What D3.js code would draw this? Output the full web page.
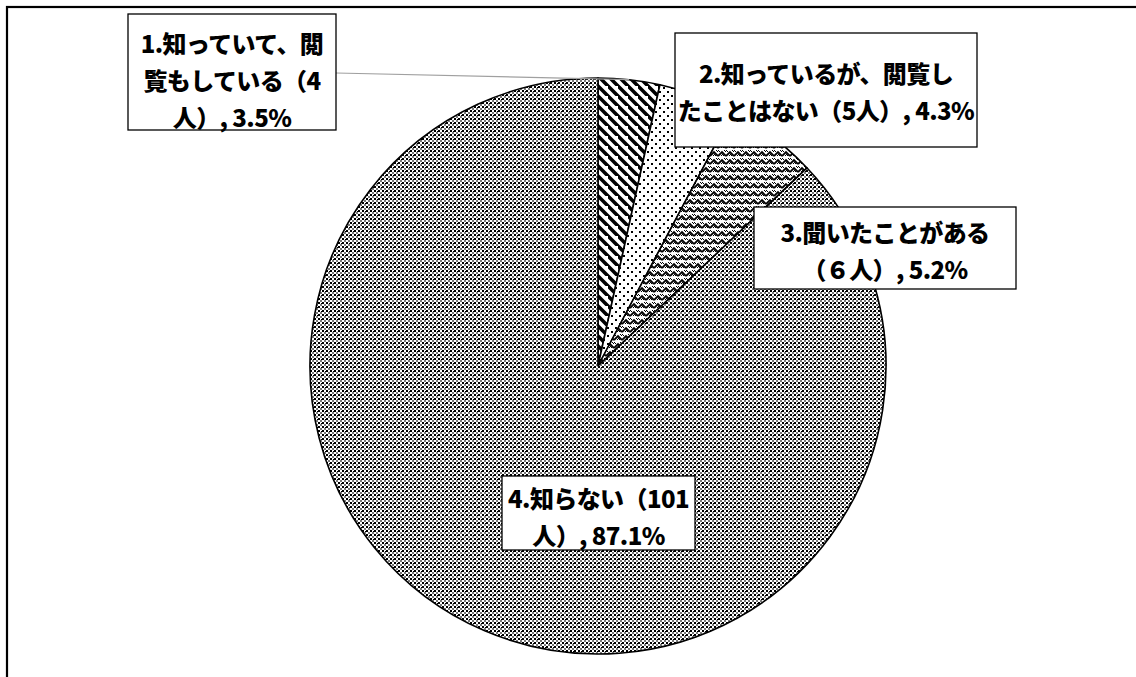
<!DOCTYPE html>
<html><head><meta charset="utf-8">
<script src="https://cdn.jsdelivr.net/npm/d3@7/dist/d3.min.js"></script>
<style>html,body{margin:0;padding:0;background:#fff;}svg{display:block;}</style>
</head><body>
<script>
// ---- data ----
const categories = ["1.知っていて、閲覧もしている", "2.知っているが、閲覧したことはない", "3.聞いたことがある", "4.知らない"];
const counts = [4, 5, 6, 101];
const percents = ["3.5%", "4.3%", "5.2%", "87.1%"];
const labelLines = [
  ["1.知っていて、閲", "覧もしている（4", "人）, 3.5%"],
  ["2.知っているが、閲覧し", "たことはない（5人）, 4.3%"],
  ["3.聞いたことがある", "（６人）, 5.2%"],
  ["4.知らない（101", "人）, 87.1%"]
];
// ---- layout ----
const W = 1136, H = 677;
const cx = 598, cy = 366, R = 288;
const boxes = [
  {x:128, y:14, w:208, h:116, ty:42},
  {x:675, y:33, w:302, h:114, ty:72},
  {x:754, y:207, w:262, h:82, ty:231},
  {x:502, y:476, w:193, h:74, ty:497}
];
const lineH = 37;

const svg = d3.select("body").append("svg").attr("width", W).attr("height", H);
const defs = svg.append("defs");
function tile(id, s){
  const p = defs.append("pattern").attr("id",id).attr("patternUnits","userSpaceOnUse").attr("width",s).attr("height",s);
  p.append("rect").attr("width",s).attr("height",s).attr("fill","#fff");
  return p;
}
function px(p, list){
  list.forEach(([x,y,w,h,c])=>p.append("rect").attr("x",x).attr("y",y).attr("width",w).attr("height",h).attr("fill",c).attr("shape-rendering","crispEdges"));
}
// pattern 0: wide downward diagonal
const p0 = tile("p0",10);
p0.append("path").attr("d","M-3,-3 L13,13 M-8,2 L2,12 M8,-8 L18,2").attr("stroke","#000").attr("stroke-width",3.6);
// pattern 1: sparse dots
const p1 = tile("p1",8);
px(p1, [[1,1,2,2,"#000"],[5,5,2,2,"#000"]]);
// pattern 2: zigzag weave
const p2 = tile("p2",8);
p2.append("path").attr("d","M0,6 L4,2 L8,6").attr("stroke","#000").attr("stroke-width",1.8).attr("fill","none");
px(p2, [[0,0,1,1,"#000"],[1,1,1,1,"#000"],[6,0,1,1,"#000"],[7,1,1,1,"#000"],[4,4,1,1,"#000"],[3,5,1,1,"#000"],[5,5,1,1,"#000"]]);
// pattern 3: small checker with grey
const p3 = tile("p3",8);
px(p3, [[0,0,2,2,"#000"],[4,0,2,2,"#000"],[2,2,2,2,"#777"],[6,2,2,2,"#777"],
        [0,4,2,2,"#000"],[4,4,2,2,"#000"],[2,6,2,2,"#777"],[6,6,2,2,"#777"],
        [3,1,1,1,"#000"],[7,5,1,1,"#000"]]);

const fills = ["url(#p0)","url(#p1)","url(#p2)","url(#p3)"];

// outer frame
svg.append("rect").attr("x",7).attr("y",7).attr("width",W+20).attr("height",H+20)
  .attr("fill","#fff").attr("stroke","#000").attr("stroke-width",2.2);

const pie = d3.pie().sort(null).value(d=>d);
const arcs = pie(counts);
const arc = d3.arc().innerRadius(0).outerRadius(R);
const g = svg.append("g").attr("transform",`translate(${cx},${cy})`);
g.selectAll("path").data(arcs).join("path")
  .attr("d",arc).attr("fill",(d,i)=>fills[i])
  .attr("stroke","#000").attr("stroke-width",1.6).attr("stroke-linejoin","round");

// leader line for label 1
const mid0 = (arcs[0].startAngle + arcs[0].endAngle)/2;
svg.append("line")
  .attr("x1", boxes[0].x + boxes[0].w).attr("y1", 73)
  .attr("x2", cx + R*Math.sin(mid0)).attr("y2", cy - R*Math.cos(mid0))
  .attr("stroke","#a0a0a0").attr("stroke-width",1.2);

// labels
const font = "'Noto Sans CJK JP', 'Noto Sans', sans-serif";
boxes.forEach((b,i)=>{
  svg.append("rect").attr("x",b.x).attr("y",b.y).attr("width",b.w).attr("height",b.h)
    .attr("fill","#fff").attr("stroke","#000").attr("stroke-width",1.3);
  const t = svg.append("text").attr("font-family",font).attr("font-weight",900)
    .attr("font-size",24).attr("letter-spacing","-0.6px").attr("fill","#000").attr("text-anchor","middle");
  labelLines[i].forEach((ln,j)=>{
    t.append("tspan").attr("x", b.x + b.w/2).attr("y", b.ty + j*lineH)
      .attr("dominant-baseline","central").text(ln);
  });
});
</script>
</body></html>
